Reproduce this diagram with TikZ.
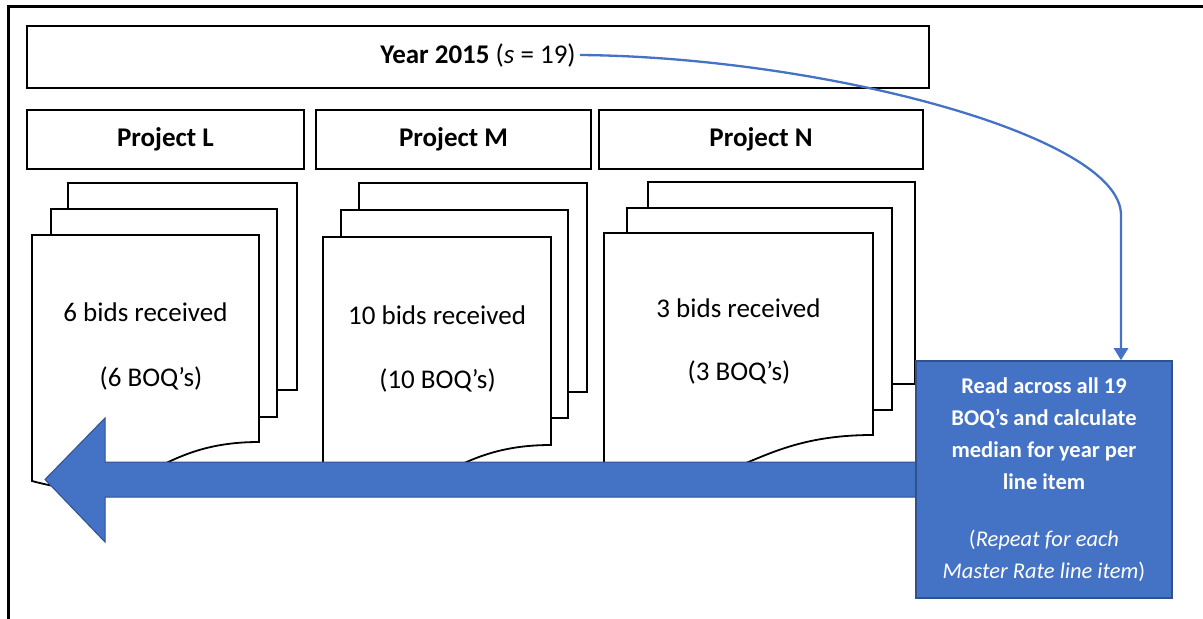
\documentclass[tikz,border=0pt]{standalone}
\usepackage{fontspec}
\setmainfont{Carlito}
\usetikzlibrary{arrows.meta}
\definecolor{accblue}{HTML}{4472C4}
\definecolor{accedge}{HTML}{2F528F}
\begin{document}
\begin{tikzpicture}[x=1bp,y=-1bp,
  frame/.style={line width=2.4bp},
  headbox/.style={draw, line width=2.2bp, fill=white, inner sep=0pt},
  page/.style={draw, line width=1.8bp, fill=white, line join=miter},
  bigtxt/.style={font=\fontsize{27bp}{32bp}\selectfont, inner sep=0pt},
  calcbox/.style={draw=accedge, fill=accblue, line width=1.5bp, text=white,
    minimum width=256bp, minimum height=237bp, align=center, inner sep=0pt,
    font=\fontsize{22.5bp}{32bp}\selectfont},
  bigarrow/.style={fill=accblue, draw=accedge, line width=1bp},
  curvearrow/.style={draw=accblue, line width=2.3bp,
    -{Triangle[width=14bp,length=12bp]}}
]
\useasboundingbox (0,0) rectangle (1203,619);

% outer frame (only left and top edges visible)
\draw[frame] (8.5,619) -- (8.5,6.5) -- (1203,6.5);

% header boxes
\node[headbox, minimum width=902bp, minimum height=62bp] (yearbox) at (478,57) {};
\node[bigtxt, inner xsep=4bp] (yeartxt) at (478,55)
  {\textbf{Year 2015} (\textit{s} = 19)};
\node[headbox, minimum width=277bp, minimum height=59bp] (projL) at (165.5,139.5)
  {\fontsize{27bp}{32bp}\selectfont\textbf{Project L}};
\node[headbox, minimum width=275bp, minimum height=59bp] (projM) at (453.5,139.5)
  {\fontsize{27bp}{32bp}\selectfont\textbf{Project M}};
\node[headbox, minimum width=324bp, minimum height=59bp] (projN) at (761,139.5)
  {\fontsize{27bp}{32bp}\selectfont\textbf{Project N}};

% multidocument L
\draw[page] (68,183) rectangle (297,390);
\draw[page] (51,209) rectangle (277,417);
\draw[page] (32,235) -- (259,235) -- (259,442)
  .. controls (145.5,442) and (145.5,512) .. (32,481) -- cycle;
\node[bigtxt] (docL1) at (145.5,312) {6 bids received};
\node[bigtxt] (docL2) at (151,378) {(6 BOQ’s)};

% multidocument M
\draw[page] (359,183) rectangle (587,392);
\draw[page] (341,210) rectangle (568,418);
\draw[page] (323,237) -- (551,237) -- (551,445)
  .. controls (437,445) and (437,515) .. (323,484) -- cycle;
\node[bigtxt] (docM1) at (437,315) {10 bids received};
\node[bigtxt] (docM2) at (437.5,380) {(10 BOQ’s)};

% multidocument N
\draw[page] (648,182) rectangle (915,384);
\draw[page] (627,208) rectangle (892,410);
\draw[page] (604,233) -- (873,233) -- (873,435)
  .. controls (738.5,435) and (738.5,505) .. (604,474) -- cycle;
\node[bigtxt] (docN1) at (738.5,308) {3 bids received};
\node[bigtxt] (docN2) at (739,372) {(3 BOQ’s)};

% big block arrow
\path[bigarrow] (45,479.5) -- (105,418) -- (105,462) -- (918,462) -- (918,497)
  -- (105,497) -- (105,542) -- cycle;

% calculation box
\node[calcbox] (calc) at (1044,479.5)
  {\textbf{Read across all 19}\\\textbf{BOQ’s and calculate}\\
   \textbf{median for year per}\\\textbf{line item}\\[25bp]
   (\textit{Repeat for each}\\\textit{Master Rate line item})};

% curved connector
\coordinate (bend) at (1121,215);
\draw[curvearrow] (yeartxt.east) .. controls (820,57) and (1121,135) .. (bend)
  -- (bend |- calc.north);
\end{tikzpicture}
\end{document}
